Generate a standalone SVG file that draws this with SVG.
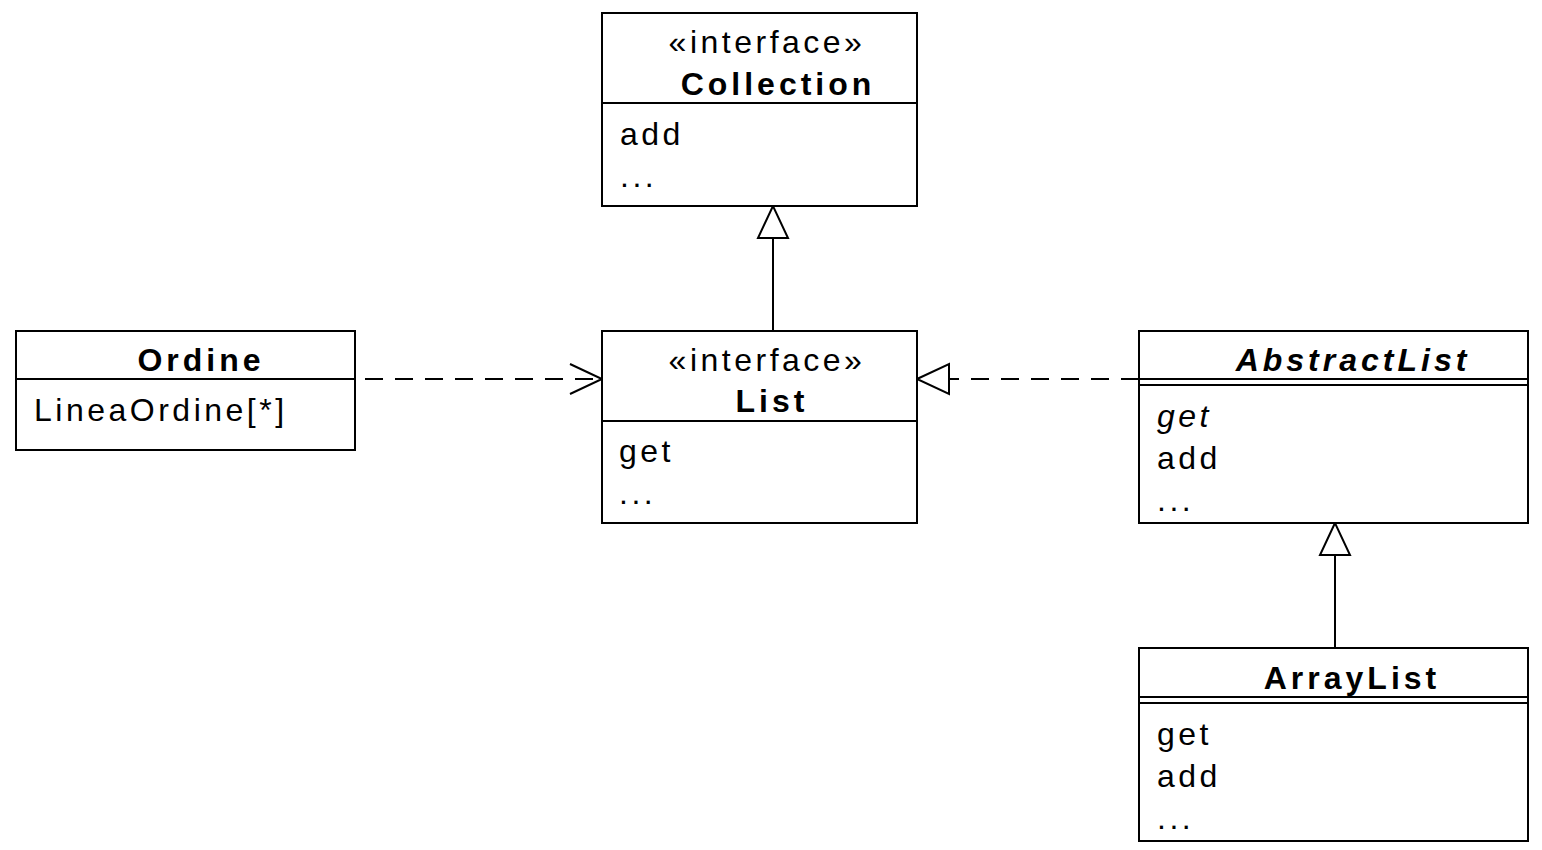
<svg xmlns="http://www.w3.org/2000/svg" width="1542" height="850" viewBox="0 0 1542 850">
<style>
.box{fill:#fff;stroke:#000;stroke-width:2}
.ln{stroke:#000;stroke-width:2;fill:none}
.dash{stroke:#000;stroke-width:2;fill:none;stroke-dasharray:18 12}
.tri{fill:#fff;stroke:#000;stroke-width:2}
text{font-family:"Liberation Sans",Arial,sans-serif;font-size:32px;letter-spacing:3.5px;fill:#000}
.t{font-weight:bold;text-anchor:middle;letter-spacing:4px}
.s{text-anchor:middle}
.i{font-style:italic}
</style>
<rect width="1542" height="850" fill="#fff"/>
<g id="connectors">
<line class="ln" x1="773" y1="331" x2="773" y2="238"/>
<polygon class="tri" points="773,206 758,238 788,238"/>
<line class="dash" x1="365" y1="379" x2="600" y2="379"/>
<polyline class="ln" points="570,364 602,379 570,394"/>
<line class="dash" x1="1139" y1="379" x2="949" y2="379"/>
<polygon class="tri" points="917,379 949,364 949,394"/>
<line class="ln" x1="1335" y1="648" x2="1335" y2="555"/>
<polygon class="tri" points="1335,523 1320,555 1350,555"/>
</g>
<g id="Collection">
<rect class="box" x="602" y="13" width="315" height="193"/>
<line class="ln" x1="602" y1="103" x2="917" y2="103"/>
<text class="s" x="767" y="53">«interface»</text>
<text class="t" x="778" y="95">Collection</text>
<text x="620" y="145">add</text>
<text x="620" y="187">...</text>
</g>
<g id="List">
<rect class="box" x="602" y="331" width="315" height="192"/>
<line class="ln" x1="602" y1="421" x2="917" y2="421"/>
<text class="s" x="767" y="371">«interface»</text>
<text class="t" x="772" y="412">List</text>
<text x="619" y="462">get</text>
<text x="619" y="504">...</text>
</g>
<g id="Ordine">
<rect class="box" x="16" y="331" width="339" height="119"/>
<line class="ln" x1="16" y1="379" x2="355" y2="379"/>
<text class="t" x="201" y="371">Ordine</text>
<text x="34" y="421">LineaOrdine[*]</text>
</g>
<g id="AbstractList">
<rect class="box" x="1139" y="331" width="389" height="192"/>
<line class="ln" x1="1139" y1="379" x2="1528" y2="379"/>
<line class="ln" x1="1139" y1="385" x2="1528" y2="385"/>
<text class="t i" x="1353" y="371">AbstractList</text>
<text class="i" x="1157" y="427">get</text>
<text x="1157" y="469">add</text>
<text x="1157" y="511">...</text>
</g>
<g id="ArrayList">
<rect class="box" x="1139" y="648" width="389" height="193"/>
<line class="ln" x1="1139" y1="697" x2="1528" y2="697"/>
<line class="ln" x1="1139" y1="703" x2="1528" y2="703"/>
<text class="t" x="1352" y="689">ArrayList</text>
<text x="1157" y="745">get</text>
<text x="1157" y="787">add</text>
<text x="1157" y="829">...</text>
</g>
</svg>
